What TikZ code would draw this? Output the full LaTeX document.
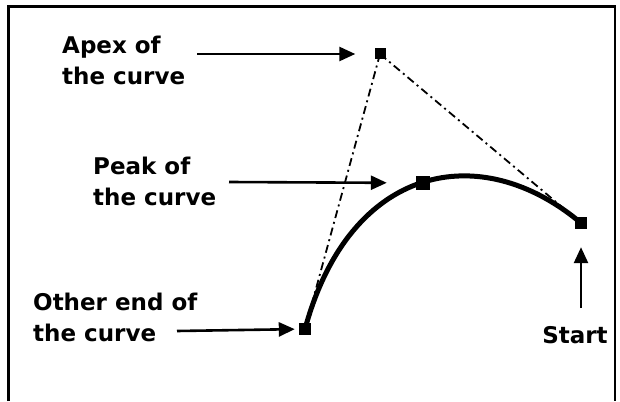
\documentclass[tikz,border=0pt]{standalone}
\usepackage{fontspec}
\setmainfont{DejaVu Sans}
\usetikzlibrary{arrows.meta,calc,backgrounds}
\definecolor{curveink}{HTML}{000000}
\definecolor{curvepaper}{HTML}{FFFFFF}
\tikzset{
  curve point/.style={
    rectangle, draw=none, fill=curveink,
    minimum size=12pt, inner sep=0pt
  },
  curve label/.style={
    text=curveink, font=\fontsize{23}{31}\selectfont\bfseries,
    align=left, anchor=west, inner sep=0pt
  },
  curve line/.style={
    draw=curveink, line width=5pt, line cap=round
  },
  curve arrow/.style={
    draw=curveink, line width=2.6pt,
    -{Triangle[length=16pt,width=14pt]}
  },
  curve guide/.style={
    draw=curveink, line width=1.8pt,
    dash pattern=on 8pt off 4pt on 2pt off 4pt
  },
  curve frame/.style={draw=curveink, line width=2.5pt}
}

\begin{document}
\begin{tikzpicture}[x=1pt,y=-1pt]
  \useasboundingbox (0,0) rectangle (620,401);
  \draw[curve frame] (8.5,401) -- (8.5,6.5) -- (615,6.5) -- (615,401);

  \node[curve point,minimum size=11pt] (apex) at (380,54) {};
  \node[curve point,minimum size=14pt] (peak) at (423,183) {};
  \node[curve point] (start) at (581,223) {};
  \node[curve point] (otherend) at (305,329) {};

  \node[curve label] (apexlabel) at (62,60) {Apex of\\the curve};
  \node[curve label] (peaklabel) at (93,181) {Peak of\\the curve};
  \node[curve label] (otherlabel) at (33,317) {Other end of\\the curve};
  \node[curve label,anchor=center] (startlabel) at (575,335) {Start};

  \coordinate (apextail) at (197,54);
  \coordinate (peaktail) at (229,182);
  \coordinate (othertail) at (177,331);
  \coordinate (starttail) at (581,308);

  \begin{scope}[on background layer]
    % The two guide lines run from both ends up to the apex.
    \draw[curve guide] (apex.center) -- (otherend.center);
    \draw[curve guide] (apex.center) -- (start.center);
    \draw[curve line] (otherend.center)
      .. controls ($(otherend.center)!0.6!(apex.center)$)
      and ($(start.center)!0.5!(apex.center)$) .. (start.center);
  \end{scope}

  \draw[curve arrow,shorten >=19pt] (apextail) -- (apex);
  \draw[curve arrow,shorten >=29pt] (peaktail) -- (peak);
  \draw[curve arrow,shorten >=4pt] (othertail) -- (otherend);
  \draw[curve arrow,shorten >=18pt] (starttail) -- (start);
\end{tikzpicture}
\end{document}
